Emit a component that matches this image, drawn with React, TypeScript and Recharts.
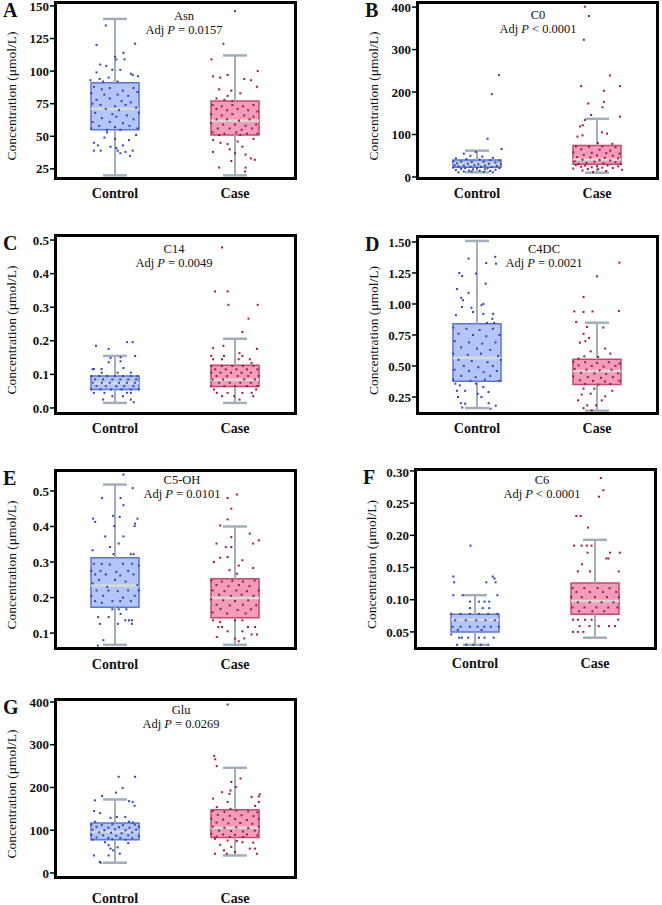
import React from 'react';
import { ComposedChart, XAxis, YAxis, Scatter, ReferenceArea, ReferenceLine } from 'recharts';

const groups = ['Control', 'Case'];
const FONT = '"Liberation Serif", "Times New Roman", serif';

// box stats: [min, q1, median, q3, max]
const asnControlBox = [20, 55, 71, 91, 140];
const asnCaseBox = [20, 51, 62, 77, 112];
const c0ControlBox = [11, 23, 30, 40, 62];
const c0CaseBox = [10, 30, 41, 74, 137];
const c14ControlBox = [0.015, 0.055, 0.074, 0.095, 0.155];
const c14CaseBox = [0.015, 0.064, 0.084, 0.127, 0.206];
const c4dcControlBox = [0.161, 0.376, 0.565, 0.841, 1.508];
const c4dcCaseBox = [0.14, 0.35, 0.46, 0.554, 0.849];
const c5ohControlBox = [0.067, 0.173, 0.234, 0.312, 0.518];
const c5ohCaseBox = [0.067, 0.143, 0.199, 0.253, 0.4];
const c6ControlBox = [0.03, 0.05, 0.069, 0.0775, 0.107];
const c6CaseBox = [0.041, 0.0775, 0.098, 0.126, 0.193];
const gluControlBox = [24, 78, 97, 117, 172];
const gluCaseBox = [41, 83, 106, 148, 246];

const asnTicks = [25, 50, 75, 100, 125, 150];
const c0Ticks = [0, 100, 200, 300, 400];
const c14Ticks = [0, 0.1, 0.2, 0.3, 0.4, 0.5];
const c4dcTicks = [0.25, 0.5, 0.75, 1.0, 1.25, 1.5];
const c5ohTicks = [0.1, 0.2, 0.3, 0.4, 0.5];
const c6Ticks = [0.05, 0.1, 0.15, 0.2, 0.25, 0.3];
const gluTicks = [0, 100, 200, 300, 400];

// points: [jitter (-1..1 of box half width), value]
const asnControlPts = [
  [-0.35, 135], [-0.7, 120], [0.76, 121], [0.32, 114], [0, 111], [0.05, 109], [0.36, 109], [-0.56, 105], [-0.33, 104],
  [-0.7, 99], [-0.1, 101], [0.2, 101], [0.6, 98], [0.67, 97], [0.87, 96], [-0.93, 93], [-0.58, 94], [-0.24, 95],
  [-0.45, 92], [0.1, 92], [-0.8, 88], [-0.5, 86], [-0.2, 87], [0.3, 85], [0.7, 87], [-0.9, 83], [-0.4, 82], [0.1, 82],
  [0.5, 81], [0.85, 84], [-0.7, 78], [-0.2, 79], [0.25, 77], [0.6, 76], [-0.85, 75], [-0.55, 74], [0, 73], [0.4, 74],
  [0.8, 72], [-0.35, 71], [0.15, 70], [-0.75, 68], [-0.1, 67], [0.45, 66], [0.9, 68], [-0.5, 64], [0.05, 65], [0.7, 63],
  [-0.85, 61], [-0.2, 61], [0.3, 60], [-0.6, 58], [0.55, 58], [0, 57], [-0.9, 56], [0.85, 56], [-0.3, 55], [0.2, 55],
  [-0.3, 53], [-0.8, 45], [-0.65, 43], [-0.17, 42], [0.05, 41], [0.3, 43], [0.53, 47], [0.8, 51], [-0.8, 39],
  [-0.54, 39], [0.1, 39], [0.4, 38], [0.2, 37], [0.67, 39], [0.57, 35], [-0.4, 49], [0, 48],
];
const asnCasePts = [
  [0, 146], [-0.44, 121], [-0.89, 109], [0.86, 100], [-0.83, 96], [-0.56, 95], [-0.28, 97], [0.35, 94], [0.6, 93],
  [-0.6, 86], [0.83, 88], [-0.14, 85], [0.2, 83], [-0.28, 81], [-0.7, 79], [-0.1, 77], [-0.4, 78], [-0.85, 74],
  [-0.5, 73], [-0.1, 74], [0.3, 73], [0.7, 74], [-0.7, 71], [-0.3, 70], [0.1, 71], [0.5, 70], [0.85, 69], [-0.9, 67],
  [-0.5, 66], [-0.1, 67], [0.35, 66], [0.7, 65], [-0.7, 63], [-0.3, 63], [0.15, 62], [0.55, 63], [-0.9, 60],
  [-0.45, 59], [0, 59], [0.4, 58], [0.8, 59], [-0.65, 56], [-0.2, 56], [0.25, 55], [0.65, 56], [-0.85, 53], [-0.4, 52],
  [0.05, 53], [0.45, 52], [0.85, 52], [-0.6, 51], [0.2, 51], [-0.83, 47], [-0.55, 45], [-0.28, 44], [0.28, 42],
  [-0.83, 38], [0, 37], [0.4, 36], [0.6, 33], [0.75, 32], [-0.6, 26], [-0.14, 31], [0.4, 26], [0.38, 23], [-0.2, 40],
  [0.1, 46], [0.7, 48],
];
const c0ControlPts = [
  [0.83, 240], [0.56, 195], [0.4, 90], [0.93, 66], [-0.05, 59], [-0.5, 55], [-0.25, 50], [0.2, 48], [0.6, 45],
  [-0.8, 44], [-0.4, 42], [0.1, 41], [0.5, 40], [0.85, 39], [-0.9, 37], [-0.6, 36], [-0.2, 35], [0.25, 36], [0.7, 34],
  [-0.75, 32], [-0.35, 31], [0.05, 30], [0.45, 31], [0.9, 30], [-0.85, 28], [-0.5, 27], [-0.1, 28], [0.3, 27],
  [0.75, 26], [-0.7, 25], [-0.25, 24], [0.15, 24], [0.55, 23], [-0.9, 22], [-0.45, 21], [0, 21], [0.4, 20], [0.85, 21],
  [-0.6, 19], [-0.15, 18], [0.3, 18], [0.7, 17], [-0.8, 16], [-0.3, 15], [0.1, 15], [0.5, 14], [-0.5, 13], [-0.2, 13],
  [0.25, 12], [-0.7, 11], [0.6, 11],
];
const c0CasePts = [
  [-0.46, 401], [-0.3, 379], [-0.5, 323], [0.49, 239], [0.87, 214], [-0.6, 214], [0.26, 203], [0.26, 177],
  [-0.33, 173], [0.21, 164], [0.87, 142], [-0.22, 146], [-0.46, 134], [-0.54, 122], [-0.64, 119], [0.19, 105],
  [0.38, 102], [-0.74, 95], [-0.55, 98], [0.03, 80], [0.58, 78], [-0.8, 72], [-0.3, 71], [0.2, 72], [0.7, 70],
  [-0.6, 65], [0.1, 64], [0.5, 62], [-0.9, 58], [-0.2, 57], [0.35, 56], [0.85, 55], [-0.5, 52], [0, 51], [0.6, 50],
  [-0.75, 47], [-0.25, 46], [0.3, 45], [0.8, 44], [-0.55, 41], [0.1, 40], [0.5, 39], [-0.85, 37], [-0.1, 36],
  [0.7, 35], [-0.4, 33], [0.25, 32], [-0.7, 31], [0.9, 30], [-0.8, 28], [-0.45, 27], [0, 26], [0.4, 27], [0.8, 25],
  [-0.6, 24], [-0.2, 23], [0.2, 22], [0.6, 21], [-0.9, 20], [-0.35, 19], [0.05, 18], [0.95, 17], [-0.55, 15],
  [0.35, 14], [-0.15, 12],
];
const c14ControlPts = [
  [-0.72, 0.185], [-0.24, 0.176], [0.46, 0.196], [0.67, 0.196], [0.76, 0.155], [-0.17, 0.149], [0.21, 0.151],
  [-0.24, 0.136], [0.21, 0.139], [0.32, 0.119], [-0.8, 0.116], [-0.51, 0.116], [-0.5, 0.105], [0.1, 0.105],
  [0.6, 0.105], [-0.85, 0.115], [-0.9, 0.095], [-0.6, 0.095], [-0.3, 0.095], [0, 0.095], [0.3, 0.095], [0.6, 0.095],
  [0.85, 0.095], [-0.75, 0.085], [-0.45, 0.085], [-0.1, 0.085], [0.2, 0.085], [0.5, 0.085], [0.8, 0.085],
  [-0.85, 0.075], [-0.5, 0.075], [-0.2, 0.075], [0.15, 0.075], [0.45, 0.075], [0.75, 0.075], [-0.7, 0.065],
  [-0.35, 0.065], [0.05, 0.065], [0.35, 0.065], [0.7, 0.065], [-0.9, 0.055], [-0.55, 0.055], [-0.15, 0.055],
  [0.25, 0.055], [0.6, 0.055], [0.9, 0.055], [-0.8, 0.045], [-0.4, 0.045], [0.45, 0.045], [0.6, 0.045],
  [-0.45, 0.025], [0.6, 0.025], [0.71, 0.017], [-0.1, 0.035], [0.3, 0.035],
];
const c14CasePts = [
  [-0.49, 0.478], [-0.76, 0.347], [-0.28, 0.347], [-0.25, 0.307], [0.86, 0.307], [0.51, 0.266], [0.28, 0.226],
  [-0.83, 0.178], [-0.44, 0.185], [0.83, 0.176], [-0.9, 0.155], [-0.42, 0.155], [0.17, 0.163], [0.28, 0.155],
  [-0.83, 0.145], [-0.49, 0.145], [0.14, 0.145], [0.56, 0.145], [0.63, 0.134], [-0.9, 0.125], [-0.5, 0.125],
  [-0.1, 0.125], [0.3, 0.125], [0.7, 0.125], [-0.75, 0.115], [-0.35, 0.115], [0.05, 0.115], [0.45, 0.115],
  [0.85, 0.115], [-0.9, 0.105], [-0.55, 0.105], [-0.15, 0.105], [0.25, 0.105], [0.6, 0.105], [-0.7, 0.095],
  [-0.3, 0.095], [0.1, 0.095], [0.5, 0.095], [0.9, 0.095], [-0.85, 0.085], [-0.45, 0.085], [0.35, 0.085],
  [0.75, 0.085], [-0.6, 0.075], [-0.2, 0.075], [0.2, 0.075], [0.6, 0.075], [-0.9, 0.065], [-0.4, 0.065], [0, 0.065],
  [0.45, 0.065], [0.85, 0.065], [-0.69, 0.045], [-0.28, 0.045], [0.28, 0.045], [0.63, 0.045], [-0.49, 0.035],
  [-0.03, 0.035], [0.69, 0.035], [0.17, 0.025], [-0.8, 0.055], [0.8, 0.055],
];
const c4dcControlPts = [
  [-0.32, 1.366], [0.35, 1.33], [0.69, 1.38], [0.72, 1.325], [-0.67, 1.25], [-0.56, 1.225], [-0.04, 1.245],
  [0.33, 1.164], [-0.76, 1.12], [-0.32, 1.09], [-0.6, 1.05], [-0.53, 1.03], [0.24, 1.0], [0.17, 0.99], [-0.57, 0.976],
  [-0.21, 0.97], [-0.15, 0.935], [0.24, 0.92], [0.61, 0.92], [-0.8, 0.91], [0.58, 0.88], [0.38, 0.847], [0.65, 0.847],
  [-0.9, 0.81], [-0.4, 0.8], [0.1, 0.79], [0.6, 0.8], [-0.7, 0.76], [-0.15, 0.75], [0.35, 0.74], [0.85, 0.75],
  [-0.85, 0.7], [-0.3, 0.69], [0.2, 0.68], [0.7, 0.69], [-0.6, 0.65], [0, 0.64], [0.5, 0.63], [-0.9, 0.6],
  [-0.35, 0.59], [0.15, 0.6], [0.8, 0.58], [-0.7, 0.55], [-0.2, 0.54], [0.4, 0.53], [0.9, 0.55], [-0.5, 0.5],
  [0.05, 0.49], [0.6, 0.5], [-0.85, 0.47], [-0.3, 0.46], [0.25, 0.45], [0.75, 0.46], [-0.6, 0.42], [-0.05, 0.41],
  [0.5, 0.42], [-0.9, 0.39], [-0.25, 0.38], [0.3, 0.39], [0.85, 0.38], [-0.82, 0.357], [-0.65, 0.344],
  [-0.04, 0.357], [0.24, 0.33], [-0.45, 0.3], [-0.76, 0.3], [0.44, 0.29], [0.03, 0.276], [0.17, 0.25], [-0.72, 0.25],
  [-0.61, 0.2], [-0.45, 0.196], [0.44, 0.2], [0.71, 0.18], [0.51, 0.156], [-0.56, 0.165],
];
const c4dcCasePts = [
  [0.85, 1.333], [0, 1.223], [-0.51, 1.056], [-0.86, 0.94], [-0.51, 0.935], [-0.17, 0.94], [0.83, 0.943],
  [-0.79, 0.855], [-0.38, 0.815], [0.24, 0.81], [-0.51, 0.76], [-0.3, 0.726], [-0.65, 0.688], [-0.44, 0.7],
  [0.31, 0.64], [-0.24, 0.618], [-0.48, 0.578], [0.04, 0.573], [0.5, 0.6], [-0.7, 0.56], [-0.9, 0.535], [-0.45, 0.53],
  [0, 0.525], [0.45, 0.53], [0.85, 0.52], [-0.7, 0.505], [-0.2, 0.5], [0.25, 0.495], [0.7, 0.5], [-0.85, 0.475],
  [-0.4, 0.47], [0.1, 0.465], [0.55, 0.47], [-0.6, 0.445], [-0.1, 0.44], [0.35, 0.435], [0.8, 0.44], [-0.9, 0.415],
  [-0.35, 0.41], [0.15, 0.405], [0.6, 0.41], [-0.65, 0.385], [-0.15, 0.38], [0.3, 0.375], [0.85, 0.38],
  [-0.45, 0.355], [0.05, 0.35], [0.5, 0.355], [-0.51, 0.317], [-0.1, 0.317], [0.58, 0.3], [-0.24, 0.277],
  [-0.58, 0.27], [0.31, 0.255], [-0.72, 0.223], [0.18, 0.223], [-0.37, 0.183], [-0.03, 0.183], [-0.51, 0.16],
  [-0.2, 0.143],
];
const c5ohControlPts = [
  [0.32, 0.546], [0.67, 0.508], [-0.49, 0.48], [0.21, 0.48], [0.32, 0.46], [-0.07, 0.43], [0.18, 0.427],
  [-0.83, 0.422], [0.85, 0.422], [-0.75, 0.413], [0.76, 0.408], [0.74, 0.401], [-0.03, 0.401], [-0.37, 0.372],
  [0.32, 0.372], [0.14, 0.352], [-0.19, 0.342], [-0.85, 0.333], [-0.06, 0.322], [0.6, 0.322], [0.71, 0.322],
  [-0.8, 0.295], [-0.5, 0.295], [-0.2, 0.293], [0.3, 0.295], [0.65, 0.295], [0.9, 0.29], [-0.9, 0.275], [-0.55, 0.275],
  [0.05, 0.272], [0.5, 0.275], [-0.75, 0.265], [-0.35, 0.265], [0.2, 0.262], [0.7, 0.265], [-0.6, 0.25], [0, 0.25],
  [-0.85, 0.24], [0.4, 0.245], [-0.3, 0.23], [0.85, 0.235], [-0.7, 0.22], [-0.25, 0.22], [0.1, 0.218], [0.5, 0.22],
  [0.9, 0.22], [-0.9, 0.205], [-0.45, 0.205], [0.3, 0.2], [0.75, 0.205], [-0.75, 0.19], [-0.1, 0.19], [0.2, 0.19],
  [0.6, 0.19], [-0.5, 0.185], [-0.1, 0.167], [0.14, 0.167], [0.43, 0.167], [0.21, 0.154], [-0.64, 0.145],
  [-0.24, 0.145], [0.39, 0.136], [0.53, 0.136], [0.64, 0.136], [-0.57, 0.126], [0.11, 0.126], [0.64, 0.126],
  [-0.44, 0.08], [-0.65, 0.065],
];
const c5ohCasePts = [
  [-0.28, 0.48], [0.07, 0.49], [-0.14, 0.45], [-0.28, 0.42], [-0.56, 0.403], [0.56, 0.38], [-0.14, 0.37],
  [0.9, 0.361], [-0.7, 0.352], [0.69, 0.352], [-0.35, 0.342], [-0.14, 0.342], [-0.56, 0.312], [-0.28, 0.314],
  [0.28, 0.305], [0.14, 0.29], [0.69, 0.283], [-0.21, 0.277], [0.07, 0.267], [-0.8, 0.3], [-0.9, 0.248],
  [-0.5, 0.245], [-0.1, 0.247], [0.3, 0.245], [0.75, 0.248], [-0.7, 0.235], [-0.25, 0.232], [0.15, 0.235],
  [0.55, 0.232], [-0.85, 0.22], [-0.4, 0.218], [0.05, 0.22], [0.45, 0.218], [0.9, 0.22], [-0.6, 0.208],
  [-0.15, 0.205], [0.25, 0.208], [0.7, 0.205], [-0.9, 0.195], [-0.45, 0.192], [0, 0.19], [0.5, 0.192], [-0.7, 0.18],
  [-0.2, 0.178], [0.3, 0.18], [0.8, 0.178], [-0.55, 0.168], [0.1, 0.165], [0.6, 0.167], [-0.85, 0.158],
  [-0.3, 0.155], [0.4, 0.155], [-0.83, 0.136], [-0.56, 0.131], [0, 0.136], [0.28, 0.136], [-0.63, 0.117],
  [-0.49, 0.117], [0.49, 0.117], [0.76, 0.117], [-0.28, 0.105], [0.28, 0.105], [0.63, 0.096], [0.83, 0.096],
  [-0.69, 0.089], [0, 0.085], [0.35, 0.085], [0.14, 0.077],
];
const c6ControlPts = [
  [-0.17, 0.184], [-0.82, 0.136], [0.67, 0.136], [0.74, 0.133], [-0.79, 0.127], [0.43, 0.127], [0.78, 0.127],
  [-0.82, 0.107], [-0.47, 0.107], [0.85, 0.107], [-0.19, 0.097], [0.15, 0.097], [0.36, 0.097], [0.54, 0.097],
  [-0.19, 0.087], [0.29, 0.087], [0.54, 0.087], [-0.9, 0.078], [-0.55, 0.078], [-0.2, 0.078], [0.15, 0.078],
  [0.5, 0.078], [0.85, 0.078], [-0.75, 0.068], [-0.35, 0.068], [0.05, 0.068], [0.4, 0.068], [0.75, 0.068],
  [-0.85, 0.058], [-0.55, 0.058], [-0.2, 0.058], [0.1, 0.058], [0.35, 0.058], [0.6, 0.058], [0.9, 0.058],
  [-0.65, 0.053], [0.25, 0.053], [-0.6, 0.041], [-0.5, 0.041], [-0.26, 0.041], [0.15, 0.041], [0.36, 0.041],
  [0.71, 0.041], [-0.68, 0.03], [-0.33, 0.03], [-0.06, 0.03], [0.22, 0.03], [0.5, 0.03], [-0.9, 0.046],
];
const c6CasePts = [
  [0.22, 0.289], [0.32, 0.27], [0.15, 0.26], [-0.71, 0.23], [-0.54, 0.23], [-0.26, 0.212], [-0.79, 0.184],
  [-0.51, 0.184], [-0.31, 0.184], [-0.13, 0.184], [-0.28, 0.173], [0.57, 0.173], [0.94, 0.173], [0.43, 0.164],
  [0.51, 0.164], [-0.49, 0.155], [0.9, 0.144], [-0.65, 0.144], [-0.19, 0.144], [-0.85, 0.118], [-0.4, 0.118],
  [0.1, 0.118], [0.55, 0.118], [-0.7, 0.112], [-0.2, 0.112], [0.3, 0.112], [0.8, 0.112], [-0.9, 0.104],
  [-0.5, 0.104], [0, 0.104], [0.45, 0.104], [0.9, 0.104], [-0.65, 0.096], [-0.2, 0.096], [0.25, 0.096], [0.7, 0.096],
  [-0.85, 0.088], [-0.4, 0.088], [0.05, 0.088], [0.5, 0.088], [0.85, 0.088], [-0.6, 0.082], [-0.1, 0.082],
  [0.35, 0.082], [-0.83, 0.069], [-0.65, 0.069], [-0.38, 0.069], [-0.13, 0.069], [0.88, 0.069], [-0.58, 0.059],
  [-0.21, 0.059], [0.14, 0.059], [0.53, 0.059], [0.76, 0.059], [-0.83, 0.05], [-0.65, 0.05], [-0.44, 0.05],
];
const gluControlPts = [
  [0.14, 225], [0.76, 225], [0.29, 199], [0.04, 188], [-0.49, 180], [-0.76, 170], [0.67, 166], [0.53, 168],
  [0.74, 157], [-0.79, 145], [-0.56, 140], [0.07, 131], [0.39, 131], [-0.17, 129], [-0.75, 120], [0.53, 120],
  [0.67, 118], [-0.9, 113], [-0.5, 112], [-0.1, 114], [0.3, 112], [0.75, 113], [-0.7, 108], [-0.25, 106], [0.15, 107],
  [0.55, 106], [0.9, 108], [-0.85, 101], [-0.4, 100], [0, 102], [0.4, 100], [0.8, 101], [-0.6, 95], [-0.15, 94],
  [0.25, 93], [0.65, 95], [-0.9, 89], [-0.45, 88], [0.05, 87], [0.5, 88], [0.9, 86], [-0.7, 83], [-0.25, 82],
  [0.2, 82], [0.65, 81], [-0.85, 78], [-0.1, 79], [0.4, 78], [-0.38, 72], [-0.24, 65], [-0.17, 57], [-0.07, 53],
  [-0.8, 41], [-0.24, 41], [0.18, 45], [-0.58, 26], [-0.54, 24], [0.1, 60], [0.5, 70],
];
const gluCasePts = [
  [-0.28, 394], [-0.79, 274], [-0.75, 266], [-0.69, 250], [0.21, 221], [-0.14, 213], [0.03, 201], [-0.17, 193],
  [-0.21, 185], [0.63, 178], [0.9, 179], [0.94, 184], [0.9, 166], [-0.49, 189], [-0.83, 174], [-0.28, 166],
  [-0.17, 150], [0.76, 157], [-0.69, 154], [-0.85, 145], [-0.4, 143], [0.05, 146], [0.5, 144], [0.85, 142],
  [-0.65, 136], [-0.2, 134], [0.25, 135], [0.7, 133], [-0.9, 127], [-0.45, 125], [0, 126], [0.45, 124], [0.9, 126],
  [-0.7, 118], [-0.25, 116], [0.2, 117], [0.65, 115], [-0.85, 108], [-0.4, 106], [0.05, 107], [0.5, 105], [0.9, 108],
  [-0.6, 99], [-0.15, 98], [0.3, 97], [0.75, 99], [-0.9, 91], [-0.45, 90], [0, 89], [0.45, 90], [0.85, 88],
  [-0.7, 85], [-0.2, 84], [0.3, 84], [-0.76, 80], [-0.28, 76], [0.07, 75], [0.28, 72], [-0.56, 66], [0.69, 71],
  [-0.14, 61], [0.56, 57], [-0.42, 53], [0, 49], [-0.76, 45], [-0.31, 45], [0.83, 45], [0.76, 57],
];

const COLORS = {
  control: { fill: '#b3c6f7', stroke: '#5b74d6', dot: '#2f45b8' },
  case: { fill: '#f19cba', stroke: '#c9466c', dot: '#9c1c3c' },
  whisker: '#a2afba',
  median: '#d6dcd6',
};

const BOX = 0.2;
const CAP = 0.1;
const JIT = 0.22;
const PLOT_W = 240;

const panels = [
  { letter: 'A', name: 'Asn', p: '= 0.0157', left: 55, top: 2, bottom: 178, domain: [18, 153], ticks: asnTicks, digits: 0, boxes: [asnControlBox, asnCaseBox], pts: [asnControlPts, asnCasePts], titleX: 129, t1: 18, t2: 32, gap: 10 },
  { letter: 'B', name: 'C0', p: '< 0.0001', left: 417, top: 2, bottom: 178, domain: [-2.4, 412], ticks: c0Ticks, digits: 0, boxes: [c0ControlBox, c0CaseBox], pts: [c0ControlPts, c0CasePts], titleX: 121, t1: 17, t2: 31, gap: 10 },
  { letter: 'C', name: 'C14', p: '= 0.0049', left: 55, top: 235, bottom: 413, domain: [-0.015, 0.515], ticks: c14Ticks, digits: 1, boxes: [c14ControlBox, c14CaseBox], pts: [c14ControlPts, c14CasePts], titleX: 119, t1: 18, t2: 32, gap: 10 },
  { letter: 'D', name: 'C4DC', p: '= 0.0021', left: 417, top: 236, bottom: 413, domain: [0.121, 1.548], ticks: c4dcTicks, digits: 2, boxes: [c4dcControlBox, c4dcCaseBox], pts: [c4dcControlPts, c4dcCasePts], titleX: 127, t1: 17, t2: 31, gap: 10 },
  { letter: 'E', name: 'C5-OH', p: '= 0.0101', left: 55, top: 470, bottom: 648, domain: [0.058, 0.559], ticks: c5ohTicks, digits: 1, boxes: [c5ohControlBox, c5ohCaseBox], pts: [c5ohControlPts, c5ohCasePts], titleX: 127, t1: 14, t2: 28, gap: 11 },
  { letter: 'F', name: 'C6', p: '< 0.0001', left: 415, top: 469, bottom: 648, domain: [0.025, 0.303], ticks: c6Ticks, digits: 2, boxes: [c6ControlBox, c6CaseBox], pts: [c6ControlPts, c6CasePts], titleX: 127, t1: 15, t2: 29, gap: 10 },
  { letter: 'G', name: 'Glu', p: '= 0.0269', left: 55, top: 699, bottom: 877, domain: [-9.4, 407], ticks: gluTicks, digits: 0, boxes: [gluControlBox, gluCaseBox], pts: [gluControlPts, gluCasePts], titleX: 126, t1: 15, t2: 29, gap: 16 },
];

const dotShape = (color: string) => (props: any) => (
  <rect x={props.cx - 1} y={props.cy - 1} width={2} height={2} fill={color} />
);

const boxElements = (box: number[], c: number, col: any, key: string) => [
  <ReferenceLine key={key + 'wl'} segment={[{ x: c, y: box[0] }, { x: c, y: box[1] }]} stroke={COLORS.whisker} strokeWidth={2} ifOverflow="visible" />,
  <ReferenceLine key={key + 'wh'} segment={[{ x: c, y: box[3] }, { x: c, y: box[4] }]} stroke={COLORS.whisker} strokeWidth={2} ifOverflow="visible" />,
  <ReferenceLine key={key + 'cl'} segment={[{ x: c - CAP, y: box[0] }, { x: c + CAP, y: box[0] }]} stroke={COLORS.whisker} strokeWidth={2.5} ifOverflow="visible" />,
  <ReferenceLine key={key + 'ch'} segment={[{ x: c - CAP, y: box[4] }, { x: c + CAP, y: box[4] }]} stroke={COLORS.whisker} strokeWidth={2.5} ifOverflow="visible" />,
  <ReferenceArea key={key + 'box'} x1={c - BOX} x2={c + BOX} y1={box[1]} y2={box[3]} fill={col.fill} fillOpacity={1} stroke={col.stroke} strokeWidth={1.5} ifOverflow="visible" />,
  <ReferenceLine key={key + 'med'} segment={[{ x: c - BOX, y: box[2] }, { x: c + BOX, y: box[2] }]} stroke={COLORS.median} strokeWidth={2.5} ifOverflow="visible" />,
];

const BoxPanel = ({ p }: { p: any }) => {
  const plotH = p.bottom - p.top;
  const cols = [COLORS.control, COLORS.case];
  return (
    <>
      <div style={{ position: 'absolute', left: p.left - 55, top: p.top - 5 }}>
        <ComposedChart width={55 + PLOT_W + 5} height={5 + plotH + 30} margin={{ top: 5, right: 5, left: 0, bottom: 0 }}>
          <XAxis
            type="number"
            dataKey="x"
            domain={[0.5, 2.5]}
            ticks={[1, 2]}
            allowDataOverflow
            tickFormatter={(v: number) => groups[v - 1]}
            axisLine={false}
            tickLine={false}
            tickSize={0}
            tickMargin={p.gap}
            height={30}
            tick={{ fontFamily: FONT, fontSize: 14, fontWeight: 'bold', fill: '#111' }}
          />
          <YAxis
            type="number"
            dataKey="y"
            domain={p.domain}
            ticks={p.ticks}
            allowDataOverflow
            tickFormatter={(v: number) => v.toFixed(p.digits)}
            axisLine={false}
            tickLine={{ stroke: '#000', strokeWidth: 1.5 }}
            tickSize={5}
            tickMargin={1}
            width={55}
            tick={{ fontFamily: FONT, fontSize: 13, fontWeight: 'bold', fill: '#111' }}
          />
          {p.boxes.flatMap((b: number[], i: number) => boxElements(b, i + 1, cols[i], p.letter + i))}
          {p.pts.map((pts: number[][], i: number) => (
            <Scatter
              key={p.letter + 's' + i}
              data={pts.map(([dx, v]) => ({ x: i + 1 + dx * JIT, y: v }))}
              shape={dotShape(cols[i].dot)}
              isAnimationActive={false}
            />
          ))}
        </ComposedChart>
      </div>
      <div
        style={{
          position: 'absolute',
          left: p.left - 1.5,
          top: p.top - 1.5,
          width: PLOT_W + 3,
          height: plotH + 3,
          border: '3px solid #000',
          boxSizing: 'border-box',
          pointerEvents: 'none',
        }}
      />
    </>
  );
};

export default function App() {
  return (
    <div style={{ position: 'absolute', left: 0, top: 0, width: 662, height: 905, background: '#fff', overflow: 'hidden' }}>
      {panels.map((p) => (
        <BoxPanel key={p.letter} p={p} />
      ))}
      <svg width={662} height={905} style={{ position: 'absolute', left: 0, top: 0, pointerEvents: 'none' }}>
        {panels.map((p) => {
          const cy = (p.top + p.bottom) / 2 + 6;
          const lx = p.left - 44;
          return (
            <g key={p.letter} fontFamily={FONT} fill="#111">
              <text x={p.left - 52} y={p.top + 15} fontSize={20} fontWeight="bold">{p.letter}</text>
              <text x={lx} y={cy} fontSize={13.5} textAnchor="middle" dominantBaseline="central" transform={`rotate(-90 ${lx} ${cy})`}>
                Concentration (μmol/L)
              </text>
              <text x={p.left + p.titleX} y={p.top + p.t1} fontSize={12.5} textAnchor="middle">{p.name}</text>
              <text x={p.left + p.titleX} y={p.top + p.t2} fontSize={12.5} textAnchor="middle">
                Adj <tspan fontStyle="italic">P</tspan> {p.p}
              </text>
            </g>
          );
        })}
      </svg>
    </div>
  );
}
